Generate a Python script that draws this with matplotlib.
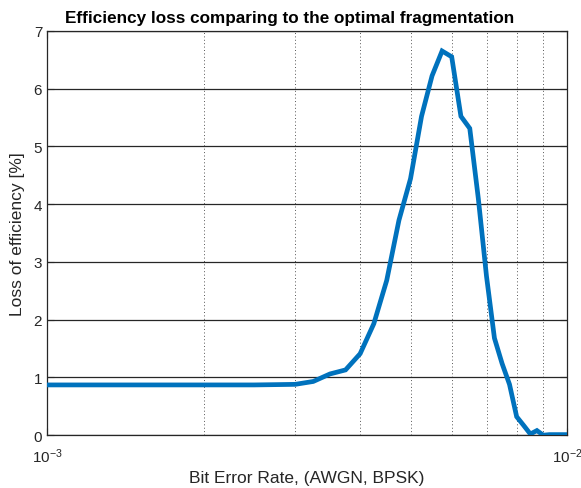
import numpy as np
import matplotlib
matplotlib.use('Agg')
import matplotlib.pyplot as plt
from matplotlib.ticker import LogLocator, NullFormatter, FixedLocator

plt.rcParams['font.family'] = ['Liberation Sans', 'DejaVu Sans']
plt.rcParams['mathtext.default'] = 'regular'

# bit error rate samples (1e-3 .. 1e-2, step 0.25e-3)
ber = np.arange(1.0, 10.01, 0.25) * 1e-3
# efficiency loss in percent
loss = [0.87, 0.87, 0.87, 0.87, 0.87, 0.87, 0.87, 0.875, 0.88,
        0.93, 1.06, 1.13, 1.41, 1.93, 2.68, 3.72, 4.44, 5.52,
        6.22, 6.65, 6.55, 5.52, 5.31, 4.10, 2.75, 1.68, 1.24,
        0.88, 0.32, 0.17, 0.02, 0.08, 0.00, 0.01, 0.01, 0.01, 0.01]

y_ticks = [0, 1, 2, 3, 4, 5, 6, 7]

fig = plt.figure(figsize=(5.81, 4.89), dpi=100)
ax = fig.add_axes([0.081, 0.108, 0.895, 0.827])

ax.plot(ber, loss, color='#0072BD', lw=3.4, solid_joinstyle='miter', zorder=3)

ax.set_xscale('log')
ax.set_xlim(1e-3, 1e-2)
ax.set_ylim(0, 7)
ax.set_yticks(y_ticks)
ax.xaxis.set_major_locator(FixedLocator([1e-3, 1e-2]))
ax.xaxis.set_minor_locator(LogLocator(base=10, subs=np.arange(2, 10)))
ax.xaxis.set_minor_formatter(NullFormatter())

# solid horizontal grid, dotted vertical grid on the minor decades
ax.grid(axis='y', which='major', color='#262626', lw=0.9, ls='-')
ax.grid(axis='x', which='minor', color='#555555', lw=0.7, ls=(0, (1, 2.5)))
ax.set_axisbelow(True)

ax.tick_params(which='both', direction='in', colors='#262626', labelsize=11,
               top=True, right=True)
ax.tick_params(which='minor', length=0)
ax.tick_params(which='major', length=5)
ax.tick_params(axis='x', pad=8)
for s in ax.spines.values():
    s.set_color('#262626')
    s.set_linewidth(0.9)

ax.set_xlabel('Bit Error Rate, (AWGN, BPSK)', fontsize=12.5, color='#262626', labelpad=4)
ax.set_ylabel('Loss of efficiency [%]', fontsize=12.5, color='#262626', labelpad=6)
ax.set_title('Efficiency loss comparing to the optimal fragmentation',
             fontsize=12.3, fontweight='bold', pad=6, x=0.467)

fig.savefig('out.png', dpi=100)
